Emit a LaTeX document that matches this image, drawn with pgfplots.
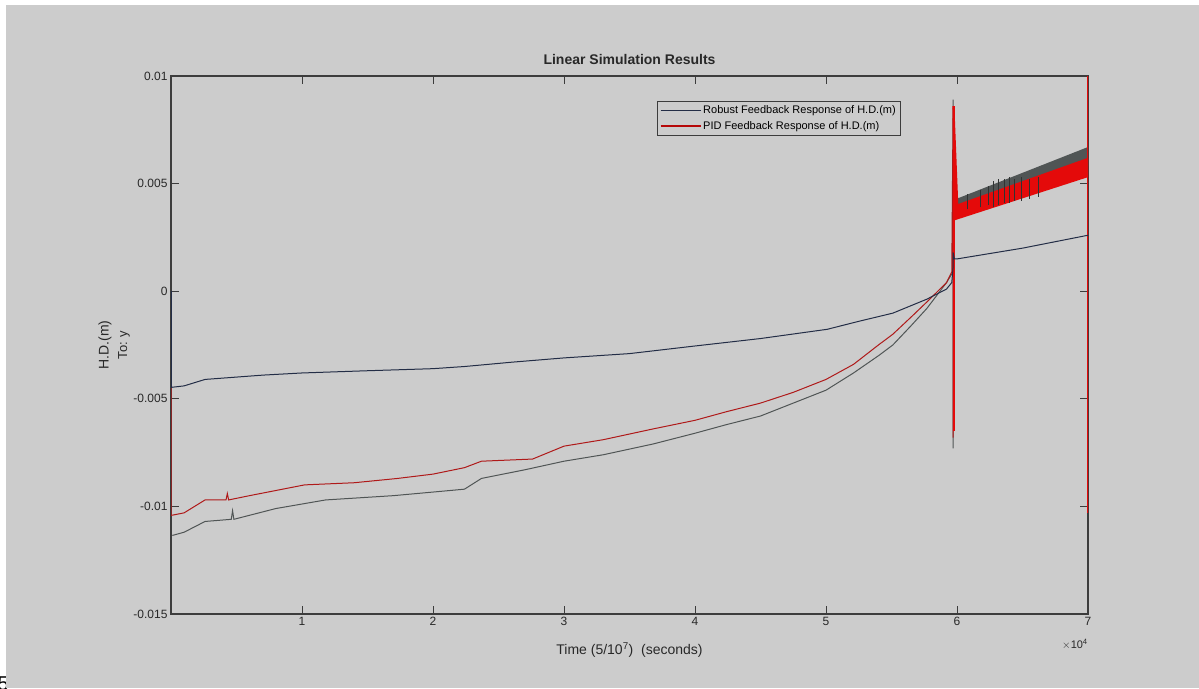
\documentclass[border=0pt]{standalone}
\usepackage{pgfplots}
\pgfplotsset{compat=1.18}
\usepackage{fontspec}
\setmainfont{Liberation Sans}
\definecolor{bg}{RGB}{204,204,204}
\definecolor{axc}{RGB}{60,60,60}
\definecolor{txt}{RGB}{40,40,40}
\definecolor{robc}{RGB}{35,45,70}
\definecolor{pidc}{RGB}{175,25,25}
\definecolor{pidband}{RGB}{228,10,10}
\definecolor{thirdc}{RGB}{80,85,85}
\begin{document}
\begin{tikzpicture}[x=1pt,y=1pt]
\useasboundingbox (0,0) rectangle (1199,688);
\fill[white] (0,0) rectangle (1199,688);
\node[anchor=south east,inner sep=0pt,font=\fontsize{20}{20}\selectfont] at (9,-3) {5};
\fill[bg] (6,0) rectangle (1199,683);
\begin{axis}[
  at={(171pt,74pt)}, anchor=south west, scale only axis,
  width=917pt, height=538pt,
  xmin=0, xmax=7, ymin=-0.015, ymax=0.01,
  scaled x ticks=false, scaled y ticks=false,
  axis background/.style={fill=bg},
  axis line style={axc, line width=1.2pt},
  xtick={1,2,3,4,5,6,7}, xticklabels={1,2,3,4,5,6,7},
  ytick={-0.015,-0.01,-0.005,0,0.005,0.01},
  yticklabels={-0.015,-0.01,-0.005,0,0.005,0.01},
  tick align=inside, major tick length=8pt,
  tick style={axc, line width=1pt},
  ticklabel style={font=\fontsize{12}{14}\selectfont, text=txt},
  unbounded coords=jump,
  legend cell align=left,
  legend image code/.code={\draw[#1] (0pt,0pt) -- (40pt,0pt);},
  legend style={at={(0.53,0.954)}, anchor=north west, fill=bg, draw=axc,
    line width=0.8pt, font=\fontsize{11}{12}\selectfont,
    inner sep=2.5pt, row sep=2pt},
]
\addlegendimage{draw=robc, line width=1.3pt}
\addlegendentry{Robust Feedback Response of H.D.(m)}
\addlegendimage{draw=pidband!80!black, line width=1.3pt}
\addlegendentry{PID Feedback Response of H.D.(m)}

% third (gray/black) response
\addplot[thirdc, line width=1pt, forget plot] coordinates {
(0.01,-0.01135)(0.1,-0.0112)(0.26,-0.0107)(0.46,-0.0106)(0.47,-0.0102)(0.48,-0.0106)
(0.8,-0.0101)(1.18,-0.0097)(1.7,-0.0095)(2.24,-0.0092)(2.37,-0.0087)(2.7,-0.0083)
(3.0,-0.0079)(3.3,-0.0076)(3.68,-0.0071)(4.0,-0.0066)(4.24,-0.0062)(4.5,-0.0058)
(4.75,-0.0052)(5.0,-0.0046)(5.21,-0.0038)(5.4,-0.0030)(5.51,-0.0025)(5.65,-0.0016)
(5.77,-0.0008)(5.92,0.0004)(5.97,0.0009)(5.97,0.0089)(5.97,-0.0073)(5.97,0.0060)
(5.99,0.0045)(6.01,0.0041)};
\addplot[fill=thirdc, draw=none, forget plot] coordinates {
(6.0,0.0034)(7.0,0.0058)(7.0,0.0067)(6.0,0.0043)} -- cycle;

% PID response
\addplot[pidc, line width=1pt, forget plot] coordinates {
(0,0)(0,-0.01042)(0.1,-0.0103)(0.26,-0.0097)(0.42,-0.0097)(0.43,-0.0094)(0.44,-0.0097)
(0.6,-0.0095)(1.02,-0.0090)(1.4,-0.0089)(1.73,-0.0087)(2.0,-0.0085)(2.24,-0.0082)
(2.37,-0.0079)(2.76,-0.0078)(3.0,-0.0072)(3.3,-0.0069)(3.68,-0.0064)(4.0,-0.0060)
(4.24,-0.0056)(4.5,-0.0052)(4.75,-0.0047)(5.0,-0.0041)(5.21,-0.0034)(5.4,-0.0025)
(5.51,-0.0020)(5.65,-0.0012)(5.77,-0.0005)(5.92,0.0004)(5.96,0.0009)(5.97,0.0085)
(5.97,-0.0068)(5.97,0.0080)(5.99,0.0050)(6.0,0.0038)};
\addplot[fill=pidband, draw=none, forget plot] coordinates {
(5.985,0.0033)(7.0,0.0053)(7.0,0.0062)(5.985,0.0040)} -- cycle;
\addplot[fill=pidband, draw=none, forget plot] coordinates {
(5.965,0.0086)(5.98,0.0086)(6.01,0.0040)(5.985,0.0033)} -- cycle;
\addplot[pidband, line width=1.6pt, forget plot] coordinates {(7,0.01)(7,-0.0103)};
\addplot[pidband, line width=1.6pt, forget plot] coordinates {(5.975,0.0086)(5.975,-0.0065)};

% spikes of the third response over the band
\addplot[thirdc!60!black, line width=1pt, forget plot] coordinates {
(6.08,0.0038)(6.08,0.0045)(6.08,nan)
(6.18,0.0039)(6.18,0.0047)(6.18,nan)
(6.24,0.0040)(6.24,0.0049)(6.24,nan)
(6.28,0.0039)(6.28,0.0051)(6.28,nan)
(6.32,0.0040)(6.32,0.0052)(6.32,nan)
(6.36,0.0041)(6.36,0.0052)(6.36,nan)
(6.40,0.0041)(6.40,0.0053)(6.40,nan)
(6.44,0.0042)(6.44,0.0052)(6.44,nan)
(6.49,0.0042)(6.49,0.0053)(6.49,nan)
(6.55,0.0043)(6.55,0.0052)(6.55,nan)
(6.62,0.0044)(6.62,0.0053)};

% Robust response
\addplot[robc, line width=1pt, forget plot] coordinates {
(0,0)(0,-0.00447)(0.1,-0.0044)(0.26,-0.0041)(0.7,-0.0039)(1.0,-0.0038)(1.48,-0.0037)
(2.0,-0.0036)(2.24,-0.0035)(2.6,-0.0033)(3.0,-0.0031)(3.5,-0.0029)(3.98,-0.00256)
(4.5,-0.0022)(5.01,-0.00177)(5.25,-0.0014)(5.51,-0.00102)(5.77,-0.00037)(5.92,0.0001)
(5.96,0.0004)(5.97,0.0011)(5.97,0.0018)(5.98,0.0015)(6.0,0.0015)(6.5,0.0020)(7.0,0.0026)};
\addplot[robc, line width=2pt, forget plot] coordinates {(0,0)(0,-0.00447)};
\end{axis}
\node[font=\bfseries\fontsize{14}{16}\selectfont, text=txt] at (629.5,628) {Linear Simulation Results};
\node[font=\fontsize{14}{16}\selectfont, text=txt] at (629.5,38) {Time (5/10\textsuperscript{7})\ \ (seconds)};
\node[font=\fontsize{14}{16}\selectfont, text=txt, rotate=90] at (105,343) {H.D.(m)};
\node[font=\fontsize{13}{15}\selectfont, text=txt, rotate=90] at (124,343) {To: y};
\node[font=\fontsize{11}{13}\selectfont, text=txt] at (1075,44) {$\times$10\textsuperscript{4}};
\end{tikzpicture}
\end{document}
